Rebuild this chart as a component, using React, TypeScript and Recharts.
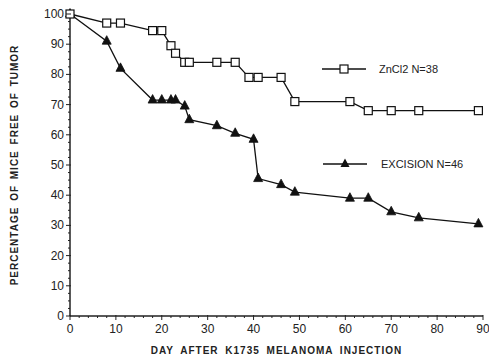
import React from 'react';
import { LineChart, Line, XAxis, YAxis } from 'recharts';

const znDays = [0, 8, 11, 18, 20, 22, 23, 25, 26, 32, 36, 39, 41, 46, 49, 61, 65, 70, 76, 89];
const znValues = [100, 97, 97, 94.5, 94.5, 89.5, 87, 84, 84, 84, 84, 79, 79, 79, 71, 71, 68, 68, 68, 68];
const exDays = [0, 8, 11, 18, 20, 22, 23, 25, 26, 32, 36, 40, 41, 46, 49, 61, 65, 70, 76, 89];
const exValues = [100, 91, 82, 71.5, 71.5, 71.5, 71.5, 69.5, 65, 63, 60.5, 58.5, 45.5, 43.5, 41, 39, 39, 34.5, 32.5, 30.5];

const xTicks = [0, 2, 4, 6, 8, 10, 12, 14, 16, 18, 20, 22, 24, 26, 28, 30, 32, 34, 36, 38, 40, 42, 44, 46, 48, 50, 52, 54, 56, 58, 60, 62, 64, 66, 68, 70, 72, 74, 76, 78, 80, 82, 84, 86, 88, 90];
const yTicks = [0, 2.5, 5, 7.5, 10, 12.5, 15, 17.5, 20, 22.5, 25, 27.5, 30, 32.5, 35, 37.5, 40, 42.5, 45, 47.5, 50, 52.5, 55, 57.5, 60, 62.5, 65, 67.5, 70, 72.5, 75, 77.5, 80, 82.5, 85, 87.5, 90, 92.5, 95, 97.5, 100];

const znData = znDays.map((d, i) => ({ day: d, value: znValues[i] }));
const exData = exDays.map((d, i) => ({ day: d, value: exValues[i] }));

const FONT = '"Liberation Sans", Arial, Helvetica, sans-serif';

const SquareDot = (props: any) => {
  const { cx, cy } = props;
  if (cx == null || cy == null) return null;
  return <rect x={cx - 4} y={cy - 4} width={8} height={8} fill="#fff" stroke="#111" strokeWidth={1.2} />;
};

const TriDot = (props: any) => {
  const { cx, cy } = props;
  if (cx == null || cy == null) return null;
  return <polygon points={`${cx},${cy - 5.5} ${cx - 4.5},${cy + 3} ${cx + 4.5},${cy + 3}`} fill="#111" stroke="#111" strokeWidth={0.8} />;
};

const XTick = (props: any) => {
  const { x, y, payload } = props;
  const major = payload.value % 10 === 0;
  return (
    <g>
      <line x1={x} x2={x} y1={y - (major ? 1 : 0)} y2={y + (major ? 4 : 2)} stroke="#222" strokeWidth={1} />
      {major && (
        <text x={x} y={y + 17} textAnchor="middle" fontSize={12} fontFamily={FONT} fill="#222">
          {payload.value}
        </text>
      )}
    </g>
  );
};

const YTick = (props: any) => {
  const { x, y, payload } = props;
  const major = payload.value % 10 === 0;
  return (
    <g>
      <line x1={x - (major ? 4 : 2)} x2={x + (major ? 1 : 0)} y1={y} y2={y} stroke="#222" strokeWidth={1} />
      {major && (
        <text x={x - 6} y={y + 4} textAnchor="end" fontSize={12} fontFamily={FONT} fill="#222">
          {payload.value}
        </text>
      )}
    </g>
  );
};

const XTitle = (props: any) => {
  const { viewBox } = props;
  const cx = viewBox.x + viewBox.width / 2;
  return (
    <text x={cx} y={viewBox.y + 38} textAnchor="middle" fontSize={10} fontWeight="bold" letterSpacing={1} wordSpacing={3} fontFamily={FONT} fill="#222">
      DAY AFTER K1735 MELANOMA INJECTION
    </text>
  );
};

const YTitle = (props: any) => {
  const { viewBox } = props;
  const cy = viewBox.y + viewBox.height / 2;
  const x = 18;
  return (
    <text x={x} y={cy} transform={`rotate(-90, ${x}, ${cy})`} textAnchor="middle" fontSize={10} fontWeight="bold" letterSpacing={1} wordSpacing={2} fontFamily={FONT} fill="#222">
      PERCENTAGE OF MICE FREE OF TUMOR
    </text>
  );
};

export default function App() {
  return (
    <div style={{ position: 'absolute', left: 0, top: 0, width: 489, height: 359, background: '#fff' }}>
      <LineChart width={489} height={359} margin={{ top: 14, right: 6, bottom: 13, left: 30 }}>
        <XAxis
          type="number"
          dataKey="day"
          domain={[0, 90]}
          ticks={xTicks}
          interval={0}
          tickSize={0}
          tickMargin={0}
          height={30}
          tick={<XTick />}
          axisLine={{ stroke: '#222', strokeWidth: 1.5 }}
          tickLine={false}
          allowDuplicatedCategory={false}
          label={<XTitle />}
        />
        <YAxis
          type="number"
          dataKey="value"
          domain={[0, 100]}
          ticks={yTicks}
          interval={0}
          tickSize={0}
          tickMargin={0}
          width={40}
          tick={<YTick />}
          axisLine={{ stroke: '#222', strokeWidth: 1.5 }}
          tickLine={false}
          label={<YTitle />}
        />
        <Line data={exData} dataKey="value" stroke="#111" strokeWidth={1.3} dot={<TriDot />} isAnimationActive={false} />
        <Line data={znData} dataKey="value" stroke="#111" strokeWidth={1.3} dot={<SquareDot />} isAnimationActive={false} />
      </LineChart>
      <div style={{ position: 'absolute', left: 322, top: 62, fontFamily: FONT, fontSize: 11, color: '#222', display: 'flex', alignItems: 'center' }}>
        <svg width={44} height={14}>
          <line x1={0} x2={44} y1={7} y2={7} stroke="#111" strokeWidth={1.3} />
          <rect x={18} y={3} width={8} height={8} fill="#fff" stroke="#111" strokeWidth={1.2} />
        </svg>
        <span style={{ marginLeft: 13 }}>ZnCl2 N=38</span>
      </div>
      <div style={{ position: 'absolute', left: 323, top: 157, fontFamily: FONT, fontSize: 11, color: '#222', display: 'flex', alignItems: 'center' }}>
        <svg width={44} height={14}>
          <line x1={0} x2={44} y1={7} y2={7} stroke="#111" strokeWidth={1.3} />
          <polygon points="22,1.5 17.5,10 26.5,10" fill="#111" />
        </svg>
        <span style={{ marginLeft: 14 }}>EXCISION N=46</span>
      </div>
    </div>
  );
}
